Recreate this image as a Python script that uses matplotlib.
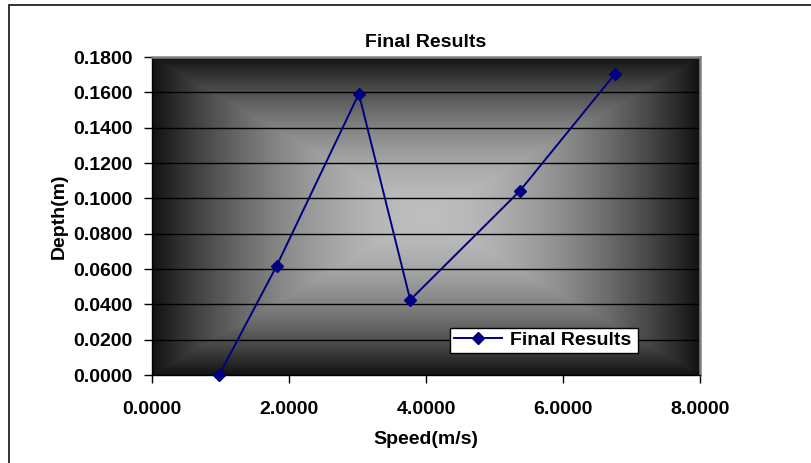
import numpy as np
import matplotlib
matplotlib.use("Agg")
import matplotlib.pyplot as plt
from matplotlib.patches import Rectangle

speed = [0.98, 1.82, 3.02, 3.77, 5.37, 6.76]
depth = [0.0000, 0.0618, 0.1592, 0.0425, 0.1042, 0.1705]
x_ticks = [0, 2, 4, 6, 8]
y_ticks = [0.00, 0.02, 0.04, 0.06, 0.08, 0.10, 0.12, 0.14, 0.16, 0.18]
series_name = "Final Results"
title = "Final Results"
x_label = "Speed(m/s)"
y_label = "Depth(m)"

plt.rcParams["font.family"] = ["Liberation Sans", "DejaVu Sans"]
plt.rcParams["font.weight"] = "bold"
FS = 14

W, H = 812, 463
fig = plt.figure(figsize=(W / 100, H / 100), dpi=100)
fig.patch.set_facecolor("white")

# outer chart frame (left and top edges visible)
fig.patches.append(Rectangle((9 / W, -0.05), 1.2, (H - 5) / H + 0.05,
                             transform=fig.transFigure, fill=False,
                             edgecolor="#222222", linewidth=1.3))

ax = fig.add_axes([152 / W, 1 - 375 / H, (700 - 152) / W, (375 - 57) / H])

# rectangular "from center" gradient fill of the plot area
n = 500
u = np.linspace(-1, 1, n)
U, V = np.meshgrid(u, u)
t = np.maximum(np.abs(U), np.abs(V))
light, dark = 0.745, 0.07
g = light - (light - dark) * t ** 1.8
img = np.dstack([g, g, g])
ax.imshow(img, extent=[0, 1, 0, 1], transform=ax.transAxes, aspect="auto",
          zorder=0, interpolation="bilinear")

ax.set_xlim(0, 8)
ax.set_ylim(0, 0.18)
ax.set_xticks(x_ticks)
ax.set_yticks(y_ticks)
ax.set_xticklabels([f"{v:.4f}" for v in x_ticks], fontsize=FS, fontweight="bold")
ax.set_yticklabels([f"{v:.4f}" for v in y_ticks], fontsize=FS, fontweight="bold")
ax.tick_params(direction="out", length=6, width=1, color="black")
ax.tick_params(axis="x", pad=13)
ax.tick_params(axis="y", pad=8)

for yv in y_ticks[1:-1]:
    ax.axhline(yv, color="black", linewidth=1, zorder=1)

for side in ("top", "right"):
    ax.spines[side].set_color("#808080")
    ax.spines[side].set_linewidth(1.8)
for side in ("left", "bottom"):
    ax.spines[side].set_color("black")
    ax.spines[side].set_linewidth(1)

ax.plot(speed, depth, color="#000080", linewidth=1.4, marker="D",
        markersize=6.5, markerfacecolor="#000080", markeredgecolor="#000080",
        label=series_name, zorder=3, clip_on=False)

ax.set_title(title, fontsize=FS, fontweight="bold", pad=7)
ax.set_xlabel(x_label, fontsize=FS, fontweight="bold", labelpad=9)
ax.set_ylabel(y_label, fontsize=FS, fontweight="bold", labelpad=4)

leg = ax.legend(loc="lower left", bbox_to_anchor=((450 - 152) / 548, (375 - 353) / 318,
                (638 - 450) / 548, 30 / 318), mode="expand",
                prop={"size": FS, "weight": "bold"}, frameon=True, fancybox=False,
                handlelength=2.5, handletextpad=0.4, borderpad=0.2,
                borderaxespad=0)
leg.get_frame().set_edgecolor("black")
leg.get_frame().set_linewidth(1)
leg.get_frame().set_facecolor("white")
leg.get_frame().set_alpha(1)

fig.savefig("out.png", dpi=100)
